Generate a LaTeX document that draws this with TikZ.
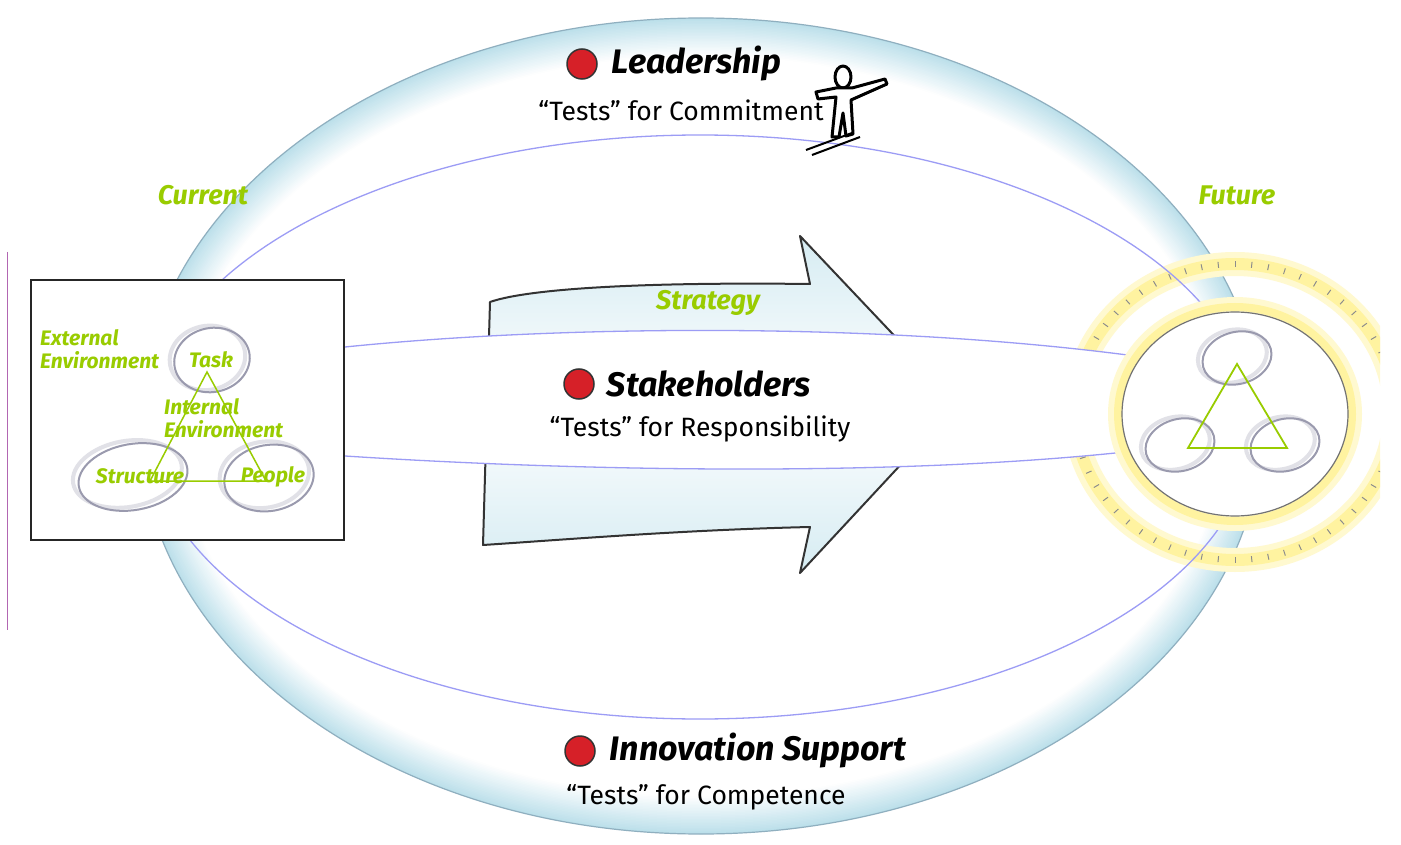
\documentclass[tikz,border=0pt]{standalone}
\usepackage{fontspec}
\setmainfont{Fira Sans}
\usetikzlibrary{positioning}
\definecolor{leaf}{HTML}{99CC00}
\definecolor{lavender}{HTML}{9C9CF5}
\definecolor{ringblue}{HTML}{B4DCE8}
\definecolor{ringedge}{HTML}{8FAFBF}
\definecolor{dotred}{HTML}{D62028}
\definecolor{glow}{HTML}{FFF3A0}
\definecolor{loopgray}{HTML}{9A9AAE}
\tikzstyle{reddot}=[circle, draw=black!80, fill=dotred, line width=1.5pt, minimum size=30pt, inner sep=0pt]
\tikzstyle{heading}=[font=\fontsize{34}{38}\selectfont\bfseries\itshape, inner sep=0pt, anchor=west]
\tikzstyle{testline}=[font=\fontsize{26.5}{30}\selectfont, inner sep=0pt]
\tikzstyle{greenlabel}=[text=leaf, font=\fontsize{27}{30}\selectfont\bfseries\itshape, inner sep=0pt]
\tikzstyle{boxlabel}=[text=leaf, font=\fontsize{21}{23}\selectfont\bfseries\itshape, align=left, inner sep=0pt]
\tikzstyle{loop}=[draw=loopgray, line width=2pt]
\tikzstyle{loopshade}=[draw=loopgray!30, line width=4pt]
\tikzstyle{bandline}=[draw=lavender, line width=1.3pt]
\tikzstyle{frame}=[draw=black!85, line width=1.5pt, fill=white, minimum width=313pt, minimum height=260pt, inner sep=0pt]
\tikzstyle{figure}=[draw=black, line width=3pt, line join=round, fill=white]

\begin{document}
\begin{tikzpicture}[x=1pt, y=-1pt]
\useasboundingbox (0,0) rectangle (1401,845);
\fill[white] (0,0) rectangle (1401,845);
\draw[violet!60, line width=1pt] (7,252) -- (7,630);

% outer tube, fading from blue edge to white
\foreach \i [evaluate=\i as \m using int(90-3.6*\i),
             evaluate=\i as \rx using 561-1.5*\i,
             evaluate=\i as \ry using 408-1.5*\i] in {0,...,25}
  \fill[ringblue!\m!white] (701,426) ellipse [x radius=\rx pt, y radius=\ry pt];
\draw[ringedge, line width=1.2pt] (701,426) ellipse [x radius=561pt, y radius=408pt];

% future: glowing dial
\begin{scope}
  \clip (0,0) rectangle (1380,845);
  \draw[glow!50, line width=24pt] (1235,412) ellipse [x radius=160pt, y radius=148pt];
  \draw[glow, line width=12pt] (1235,412) ellipse [x radius=160pt, y radius=148pt];
  \foreach \a in {0,6,...,354}
    \draw[black!45, line width=1pt, shift={(1235,412)}] (\a:157pt and 145pt) -- (\a:163pt and 151pt);
\end{scope}

% inner orbit
\draw[bandline] (700,427) ellipse [x radius=553pt, y radius=292pt];

% strategy arrow
\path[draw=black!80, line width=2pt, line join=round, top color=ringblue!55, bottom color=ringblue!55, middle color=white]
  (490,302) .. controls (530,288) and (650,282) .. (810,284) -- (800,236) -- (958,403)
  -- (800,573) -- (810,527) .. controls (680,530) and (560,540) .. (483,545) -- cycle;

% stakeholder band
\path[fill=white] (345,347) .. controls (560,325) and (880,322) .. (1135,356)
  -- (1125,452) .. controls (880,478) and (560,470) .. (345,456) -- cycle;
\draw[bandline] (345,347) .. controls (560,325) and (880,322) .. (1135,356);
\draw[bandline] (345,456) .. controls (560,470) and (880,478) .. (1125,452);

% future disc
\draw[glow!50, line width=24pt] (1235,414) ellipse [x radius=115pt, y radius=105pt];
\draw[glow, line width=8pt] (1235,414) ellipse [x radius=117pt, y radius=107pt];
\draw[black!55, line width=1.2pt, fill=white] (1235,414) ellipse [x radius=113pt, y radius=102pt];
\foreach \cx/\cy in {1237/358, 1180/445, 1285/445} {
  \draw[loopshade, rotate around={15:(\cx,\cy)}] (\cx-4,\cy-3) ellipse [x radius=35pt, y radius=26pt];
  \draw[loop, rotate around={15:(\cx,\cy)}] (\cx,\cy) ellipse [x radius=35pt, y radius=26pt];
}
\coordinate (ft) at (1237,364);
\coordinate (fl) at (1188,448);
\coordinate (fr) at (1287,448);
\draw[leaf, line width=1.8pt, line join=miter] (ft) -- (fl) -- (fr) -- cycle;

% current: the organisation box
\node[frame] (frame) at (187.5,410) {};
\draw[loopshade, rotate around={12:(212,360)}] (208,357) ellipse [x radius=38pt, y radius=32pt];
\draw[loop, rotate around={12:(212,360)}] (212,360) ellipse [x radius=38pt, y radius=32pt];
\draw[loopshade, rotate around={10:(133,477)}] (128,473) ellipse [x radius=55pt, y radius=33pt];
\draw[loop, rotate around={10:(133,477)}] (133,477) ellipse [x radius=55pt, y radius=33pt];
\draw[loopshade, rotate around={10:(269,478)}] (265,474) ellipse [x radius=45pt, y radius=33pt];
\draw[loop, rotate around={10:(269,478)}] (269,478) ellipse [x radius=45pt, y radius=33pt];
\coordinate (ct) at (207,372);
\coordinate (cl) at (150,481);
\coordinate (cr) at (266,481);
\draw[leaf, line width=1.5pt] (ct) -- (cl) -- (cr) -- cycle;
\node[boxlabel, anchor=west] (extenv) at (40,349) {External\\Environment};
\node[boxlabel] (task) at (211,360) {Task};
\node[boxlabel, anchor=west] (intenv) at (164,418) {Internal\\Environment};
\node[boxlabel] (structure) at (140,476) {Structure};
\node[boxlabel] (people) at (273,477) {People};

% labels
\node[greenlabel] (current) at (203,195) {Current};
\node[greenlabel] (future) at (1237,195) {Future};
\node[greenlabel] (strategy) at (708,303) {Strategy};

\node[reddot] (leaddot) at (582,64) {};
\node[heading, right=14pt of leaddot] (lead) {Leadership};
\node[testline] (leadtest) at (681,110) {“Tests” for Commitment};

\node[reddot] (stakedot) at (579,384) {};
\node[heading, right=12pt of stakedot] (stake) {Stakeholders};
\node[testline] (staketest) at (700,429) {“Tests” for Responsibility};

\node[reddot] (innovdot) at (580,751) {};
\node[heading, right=14pt of innovdot] (innov) {Innovation Support};
\node[testline] (innovtest) at (706,797) {“Tests” for Competence};

% skier
\draw[figure] (843,77) ellipse [x radius=8pt, y radius=11pt];
\draw[figure] (836,88) -- (816,92) -- (818,99) -- (836,97) -- (832,137) -- (839,137)
  -- (843,113) -- (846,136) -- (853,134) -- (851,100) -- (887,84) -- (885,79) -- (852,88) -- cycle;
\draw[black, line width=2pt] (806,150) -- (852,133);
\draw[black, line width=2pt] (812,155) -- (860,137);
\end{tikzpicture}
\end{document}
